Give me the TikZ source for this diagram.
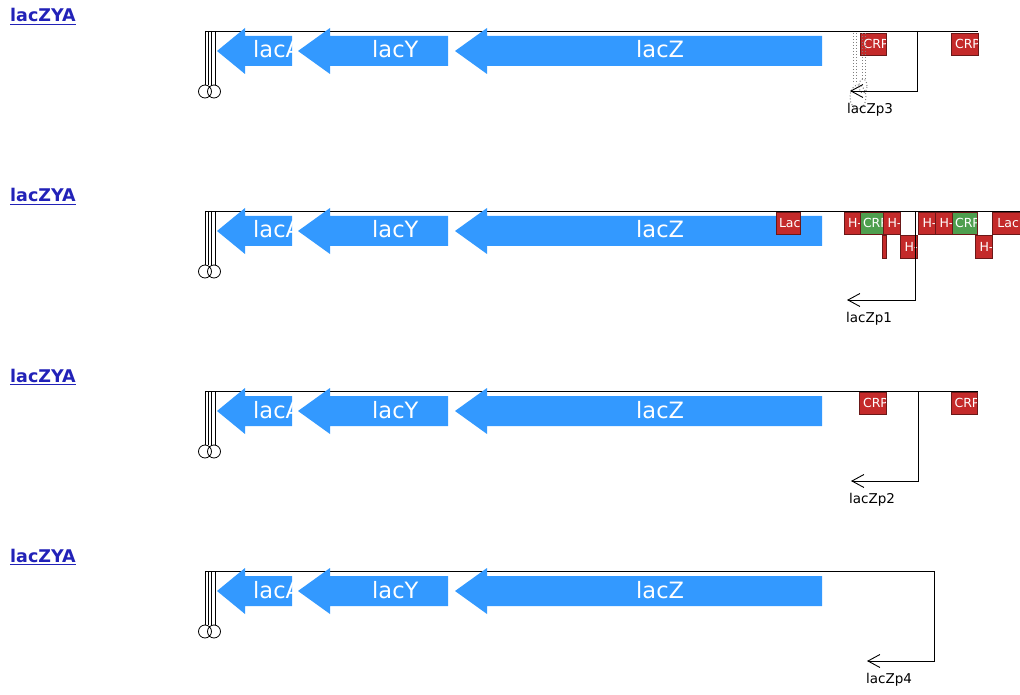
\documentclass[tikz,border=0pt]{standalone}
\usepackage{fontspec}
\setmainfont{DejaVu Sans}
\usetikzlibrary{arrows.meta,positioning}
\definecolor{GeneBlue}{HTML}{3399FF}
\definecolor{SiteRed}{HTML}{C42A2A}
\definecolor{SiteGreen}{HTML}{4E9E4E}
\definecolor{SiteEdge}{HTML}{6A1818}
\definecolor{LinkBlue}{HTML}{2222B8}
\definecolor{GhostGray}{HTML}{808080}
\newcommand\linktext[1]{\setbox0\hbox{#1}\rlap{\rule[-3.4pt]{\wd0}{1.7pt}}\box0}
\tikzset{
  >={Straight Barb[length=12pt,width=13pt]},
  backbone/.style={draw=black,line width=0.9pt},
  term/.style={draw=black,line width=0.8pt},
  genetext/.style={text=white,inner sep=0pt,font=\fontsize{22.5}{27}\selectfont},
  gene/.style n args={2}{fill=GeneBlue,
    path picture={\node[genetext,anchor=base west] at ([xshift=#1,yshift=-7pt]path picture bounding box.west) {#2};}},
  sitetext/.style={text=white,inner sep=0pt,font=\fontsize{12.5}{15}\selectfont},
  site/.style={draw=SiteEdge,line width=0.8pt,minimum height=22pt,inner sep=0pt,outer sep=0pt,anchor=north west,
    path picture={\node[sitetext,anchor=west] at ([xshift=3pt]path picture bounding box.west) {#1};}},
  redsite/.style={site=#1,fill=SiteRed},
  greensite/.style={site=#1,fill=SiteGreen},
  promoter/.style={->,draw=black,line width=0.9pt},
  plabel/.style={inner sep=0pt,font=\fontsize{13.5}{16}\selectfont},
  heading/.style={inner sep=0pt,text=LinkBlue,font=\fontsize{17.5}{21}\selectfont\bfseries},
  ghost/.style={draw=GhostGray,dotted,line width=1pt}
}
\begin{document}
\begin{tikzpicture}[x=1pt,y=-1pt]
  \useasboundingbox (0,0) rectangle (1020,695);

  % four copies of the operon
  \foreach \r/\xend in {0/978,1/1020,2/978,3/934}{
    \begin{scope}[yshift={-\r*180pt}]
      \node[heading,anchor=base west] (head\r) at (10,22) {\linktext{lacZYA}};
      \coordinate (left\r) at (205,31);
      \coordinate (right\r) at (\xend,31);
      \draw[backbone] (left\r) -- (right\r);
      % terminator
      \foreach \tx in {205,208.3,211.7,215}
        \draw[term] (\tx,31) -- (\tx,85);
      \draw[term] (205,91.5) circle[radius=6.5pt] (214,91.5) circle[radius=6.5pt];
      % genes
      \foreach \tip/\hb/\tend/\off/\gname in {217/245/292/36pt/lacA,298/330/448/74pt/lacY,455/487/822/181pt/lacZ}
        \path[gene={\off}{\gname}] (\tip,51) -- (\hb,28) -- (\hb,36) -- (\tend,36)
          -- (\tend,66) -- (\hb,66) -- (\hb,74) -- cycle;
    \end{scope}
  }

  % row 1: lacZp3
  \node[redsite=CRP,minimum width=26pt] (crp3a) at (860,33) {};
  \node[redsite=CRP,minimum width=27pt] (crp3b) at (951,33) {};
  \draw[ghost] (853,33) -- (853,84) (856,33) -- (856,84) (862,33) -- (862,79) (865,33) -- (865,79);
  \draw[ghost] (863,86) ellipse[x radius=4pt,y radius=7pt];
  \draw[ghost] (858,97) ellipse[x radius=8pt,y radius=12pt];
  \coordinate (p3top) at (917,31);
  \coordinate (p3tip) at (850,91);
  \draw[promoter] (p3top) |- (p3tip);
  \node[plabel,below right=12pt and -3pt of p3tip] (p3label) {lacZp3};

  % row 2: lacZp1
  \begin{scope}[yshift=-180pt]
    \node[redsite=LacI,minimum width=24pt] (laci1a) at (776,32) {};
    \node[redsite=H-,minimum width=16pt] (h1a) at (844,32) {};
    \node[greensite=CRP,minimum width=23pt] (crp1a) at (860,32) {};
    \node[redsite={},minimum width=4pt,minimum height=23pt] (h1b) at (882,55) {};
    \node[redsite=H-,minimum width=17pt] (h1c) at (883,32) {};
    \node[redsite=H-,minimum width=17pt,minimum height=23pt] (h1d) at (900,55) {};
    \node[redsite=H-,minimum width=17pt] (h1e) at (918,32) {};
    \node[redsite=H-,minimum width=17pt] (h1f) at (935,32) {};
    \node[greensite=CRP,minimum width=25pt] (crp1b) at (952,32) {};
    \node[redsite=H-,minimum width=17pt,minimum height=23pt] (h1g) at (975,55) {};
    \node[redsite=LacI,minimum width=30pt] (laci1b) at (992,32) {};
    \coordinate (p1top) at (915,31);
    \coordinate (p1tip) at (847,120);
    \draw[promoter] (p1top) |- (p1tip);
    \node[plabel,below right=12pt and -1pt of p1tip] (p1label) {lacZp1};
  \end{scope}

  % row 3: lacZp2
  \begin{scope}[yshift=-360pt]
    \node[redsite=CRP,minimum width=27pt] (crp2a) at (859,32) {};
    \node[redsite=CRP,minimum width=26pt] (crp2b) at (951,32) {};
    \coordinate (p2top) at (918,31);
    \coordinate (p2tip) at (851,121);
    \draw[promoter] (p2top) |- (p2tip);
    \node[plabel,below right=12pt and -2pt of p2tip] (p2label) {lacZp2};
  \end{scope}

  % row 4: lacZp4
  \begin{scope}[yshift=-540pt]
    \coordinate (p4top) at (934,31);
    \coordinate (p4tip) at (867,121);
    \draw[promoter] (p4top) |- (p4tip);
    \node[plabel,below right=12pt and -1pt of p4tip] (p4label) {lacZp4};
  \end{scope}
\end{tikzpicture}
\end{document}
